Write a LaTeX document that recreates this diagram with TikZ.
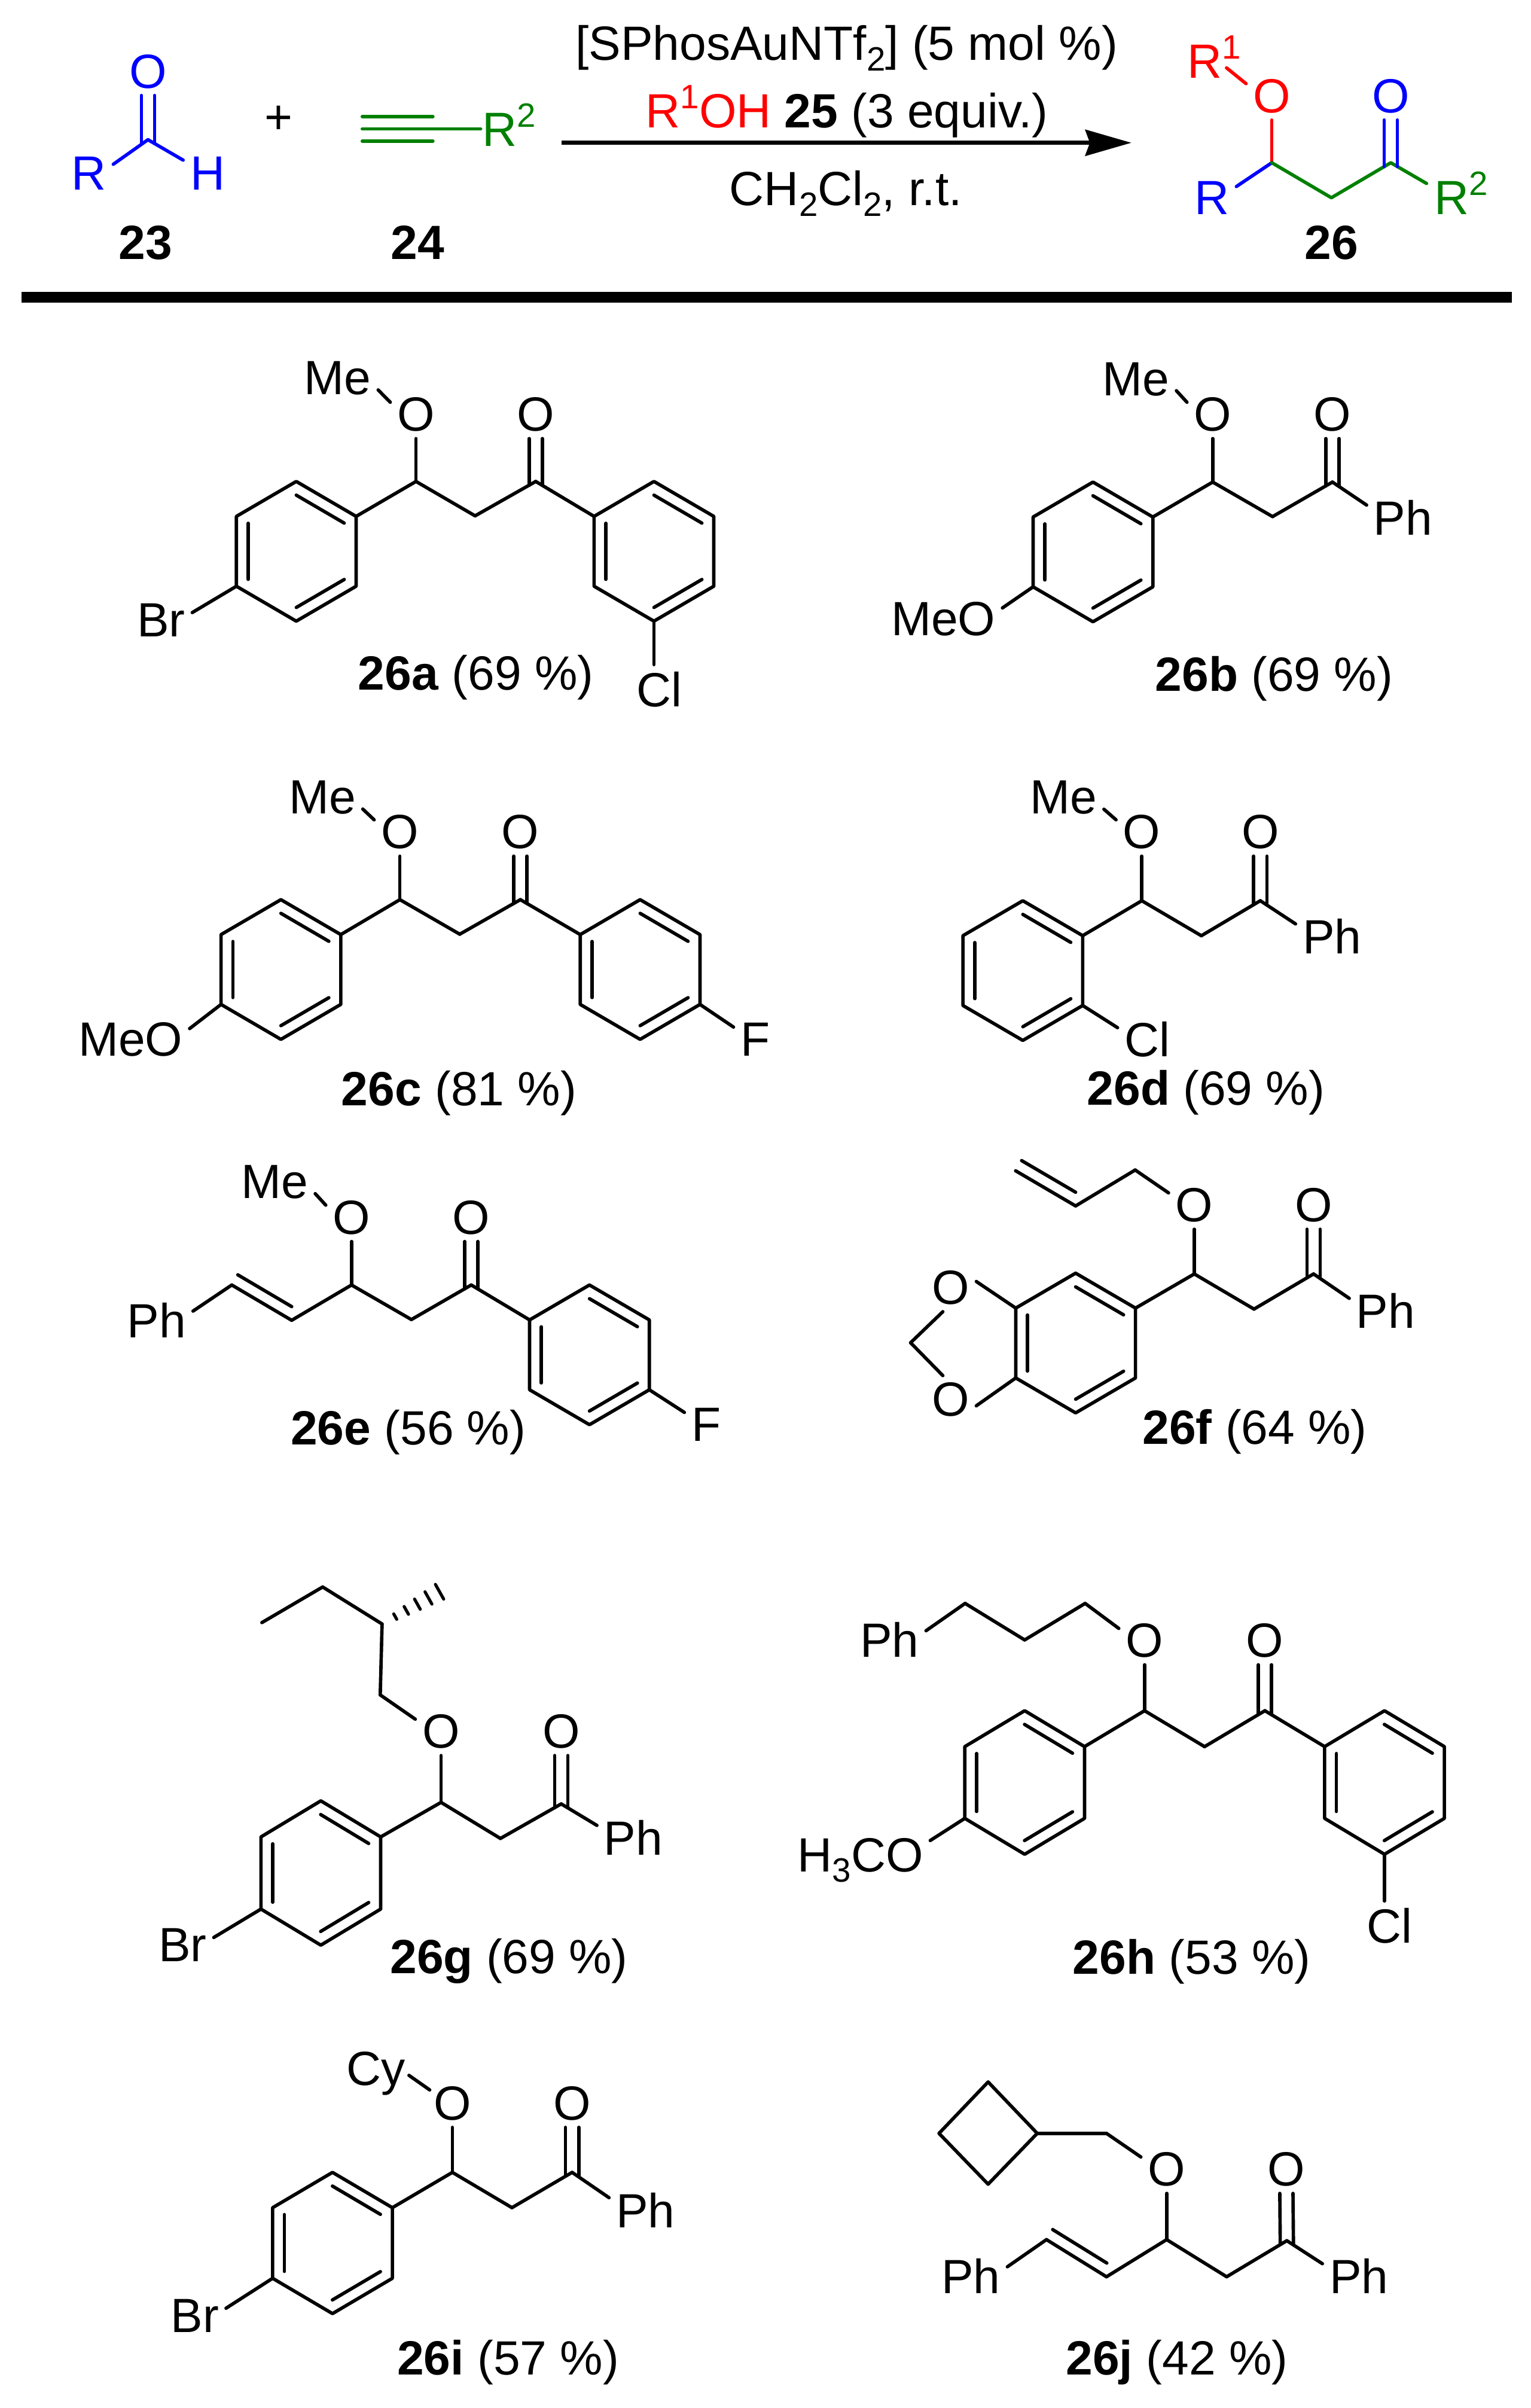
\documentclass[tikz,border=0pt]{standalone}
\usepackage{fontspec}
\setmainfont{Liberation Sans}
\usetikzlibrary{calc}
\usetikzlibrary{arrows.meta}

\definecolor{rblue}{RGB}{0,0,255}
\definecolor{rgreen}{RGB}{0,128,0}
\definecolor{rred}{RGB}{255,0,0}

\newcommand{\supr}[1]{\raisebox{12.5pt}{\fontsize{22}{22}\selectfont #1}}
\newcommand{\subr}[1]{\raisebox{-6.7pt}{\fontsize{22}{22}\selectfont #1}}

\newcommand{\innerb}[3][]{\draw[shorten <=4.5pt, shorten >=4.5pt, #1] ($(#2)!7.7pt!-90:(#3)$) -- ($(#3)!7.7pt!90:(#2)$);}

\newcommand{\dbond}[3][]{
    \draw[#1] ([xshift=-4.3pt]#2.south) -- ([xshift=-4.3pt, yshift=-2.5pt]#3);
    \draw[#1] ([xshift=4.3pt]#2.south) -- ([xshift=4.3pt, yshift=-2.5pt]#3);
}

\newcommand{\phring}[4][91]{
    \coordinate (#21) at (#3, #4);
    \coordinate (#22) at (#3+39, #4+0.25*#1);
    \coordinate (#23) at (#3+39, #4+0.75*#1);
    \coordinate (#24) at (#3, #4+#1);
    \coordinate (#25) at (#3-39, #4+0.75*#1);
    \coordinate (#26) at (#3-39, #4+0.25*#1);
    \draw (#21) -- (#22) -- (#23) -- (#24) -- (#25) -- (#26) -- cycle;
    \innerb{#21}{#22}
    \innerb{#23}{#24}
    \innerb{#25}{#26}
}

\tikzset{
    atom/.style={inner sep=3.5pt},
    sub/.style={inner sep=0pt, anchor=base west},
    yield/.style={inner sep=0pt, anchor=base}
}

\begin{document}
\begin{tikzpicture}[x=1pt, y=-1pt, line width=2.2pt, line join=round, line cap=round, font=\fontsize{31.3}{33}\selectfont]
        \useasboundingbox (0, 0) rectangle (997, 1568.5);

        \node(rO) [atom, text=rblue] at (96.4, 46.5) {O};
        \coordinate (rC) at (96.4, 91);
        \node(rR) [atom, text=rblue] at (57.9, 113) {R};
        \node(rH) [atom, text=rblue] at (135.2, 113) {H};
        \dbond[draw=rblue]{rO}{rC}
        \draw[draw=rblue] (rC) -- ([yshift=6pt]rR.east);
        \draw[draw=rblue] (rC) -- ([yshift=8.7pt]rH.west);
        \node(n23) [atom] at (94.8, 158) {\textbf{23}};
        \node(plus) [atom] at (181.6, 78) {+};

        \coordinate (y1) at (236, 83.9);
        \coordinate (y2) at (282, 83.9);
        \node(yR) [sub, text=rgreen] at (313.1, 95.2) {R\supr{2}};
        \draw[draw=rgreen] (y1) -- (y1 -| yR.west);
        \draw[draw=rgreen] ([yshift=8pt]y1) -- ([yshift=8pt]y2);
        \draw[draw=rgreen] ([yshift=-8pt]y1) -- ([yshift=-8pt]y2);
        \node(n24) [atom] at (272, 158) {\textbf{24}};

        \node(rgt1) [yield] at (551.5, 39.3) {[SPhosAuNTf\subr{2}] (5 mol \%)};
        \node(rgt2) [yield] at (551.7, 83.2) {\textcolor{rred}{R\supr{1}OH} \textbf{25} (3 equiv.)};
        \node(rgt3) [yield] at (551, 134) {CH\subr{2}Cl\subr{2}, r.t.};
        \coordinate (arr1) at (366, 93);
        \coordinate (arr2) at (737, 93);
        \draw[line width=2.6pt, line cap=butt, -{Stealth[length=30pt, width=17pt, inset=3pt]}] (arr1) -- (arr2);

        \node(pR1) [sub, text=rred] at (772.6, 50.7) {R\supr{1}};
        \coordinate (pR1c) at (799, 44.2);
        \node(pO) [atom, text=rred] at (828.5, 62.5) {O};
        \node(pO2) [atom, text=rblue] at (906, 62.5) {O};
        \coordinate (p1) at (828.5, 106);
        \coordinate (p2) at (867.3, 128.8);
        \coordinate (p3) at (906, 106);
        \node(pR) [atom, text=rblue] at (789.5, 129) {R};
        \node(pR2) [sub, text=rgreen] at (933.2, 139.6) {R\supr{2}};
        \coordinate (pR2c) at (929.3, 119.5);
        \draw[draw=rred] (pR1c) -- ([yshift=8pt]pO.west);
        \draw[draw=rred] (pO) -- (p1);
        \draw[draw=rblue] (p1) -- ([yshift=7.5pt]pR.east);
        \draw[draw=rgreen] (p1) -- (p2) -- (p3) -- (pR2c);
        \dbond[draw=rblue]{pO2}{p3}
        \node(n26) [atom] at (867.3, 158) {\textbf{26}};

        \coordinate (bar1) at (14, 193.7);
        \coordinate (bar2) at (985, 193.7);
        \draw[line width=7.1pt, line cap=butt] (bar1) -- (bar2);

        \phring{al}{193}{313.6}
        \phring{ar}{426}{313.6}
        \coordinate (a1) at (271, 313.6);
        \coordinate (a2) at (309.5, 336);
        \coordinate (a3) at (349, 313.6);
        \node(aO) [atom] at (271, 270) {O};
        \node(aO2) [atom] at (349, 270) {O};
        \node(aMe) [atom] at (220, 246.5) {Me};
        \node(aBr) [atom] at (105, 404) {Br};
        \node(aCl) [atom] at (429.4, 449) {Cl};
        \foreach \p/\q in {al2/a1, a1/a2, a2/a3, a3/ar6, a1/aO}
            \draw (\p) -- (\q);
        \dbond{aO2}{a3}
        \draw ([yshift=-7.5pt]aMe.east) -- ([yshift=8pt]aO.west);
        \draw (al5) -- ([yshift=5pt]aBr.east);
        \draw (ar4) -- (ar4 |- aCl.north);
        \node(l26a) [yield] at (310, 449.5) {\textbf{26a} (69 \%)};

        \phring{bl}{712}{314}
        \coordinate (b1) at (790, 314);
        \coordinate (b2) at (829, 336.5);
        \coordinate (b3) at (868, 314);
        \node(bO) [atom] at (790, 270) {O};
        \node(bO2) [atom] at (868, 270) {O};
        \node(bMe) [atom] at (740, 247) {Me};
        \node(bPh) [atom] at (914, 337) {Ph};
        \node(bMeO) [atom] at (614.5, 403) {MeO};
        \foreach \p/\q in {bl2/b1, b1/b2, b2/b3, b1/bO}
            \draw (\p) -- (\q);
        \dbond{bO2}{b3}
        \draw ([yshift=-7.5pt]bMe.east) -- ([yshift=8pt]bO.west);
        \draw (b3) -- ([yshift=8pt]bPh.west);
        \draw (bl5) -- ([yshift=7pt]bMeO.east);
        \node(l26b) [yield] at (830, 450) {\textbf{26b} (69 \%)};

        \phring{cl}{183}{586}
        \phring{cr}{417}{586}
        \coordinate (c1) at (260.5, 586);
        \coordinate (c2) at (299.5, 608.5);
        \coordinate (c3) at (339, 586);
        \node(cO) [atom] at (260.5, 542) {O};
        \node(cO2) [atom] at (339, 542) {O};
        \node(cMe) [atom] at (210, 519.5) {Me};
        \node(cMeO) [atom] at (85, 677) {MeO};
        \node(cF) [atom] at (492, 677) {F};
        \foreach \p/\q in {cl2/c1, c1/c2, c2/c3, c3/cr6, c1/cO}
            \draw (\p) -- (\q);
        \dbond{cO2}{c3}
        \draw ([yshift=-7.5pt]cMe.east) -- ([yshift=8pt]cO.west);
        \draw (cl5) -- ([yshift=7pt]cMeO.east);
        \draw (cr3) -- ([yshift=8pt]cF.west);
        \node(l26c) [yield] at (299, 720) {\textbf{26c} (81 \%)};

        \phring{dl}{666.3}{586.7}
        \coordinate (d1) at (743.8, 586.7);
        \coordinate (d2) at (782.6, 609.5);
        \coordinate (d3) at (821, 586.7);
        \node(dO) [atom] at (743.8, 542) {O};
        \node(dO2) [atom] at (821, 542) {O};
        \node(dMe) [atom] at (692.8, 519.6) {Me};
        \node(dPh) [atom] at (867.7, 609.8) {Ph};
        \node(dCl) [atom] at (747.4, 676.9) {Cl};
        \foreach \p/\q in {dl2/d1, d1/d2, d2/d3, d1/dO}
            \draw (\p) -- (\q);
        \dbond{dO2}{d3}
        \draw ([yshift=-7.5pt]dMe.east) -- ([yshift=8pt]dO.west);
        \draw (d3) -- ([yshift=8pt]dPh.west);
        \draw (dl3) -- ([yshift=7.5pt]dCl.west);
        \node(l26d) [yield] at (785.6, 719.6) {\textbf{26d} (69 \%)};

        \phring{er}{384}{837}
        \coordinate (e1) at (229, 837);
        \coordinate (e2) at (268, 859.5);
        \coordinate (e3) at (307, 837);
        \coordinate (e4) at (190, 860);
        \coordinate (e5) at (151, 837);
        \node(eO) [atom] at (229, 793) {O};
        \node(eO2) [atom] at (307, 793) {O};
        \node(eMe) [atom] at (179, 770) {Me};
        \node(ePh) [atom] at (102, 860) {Ph};
        \node(eF) [atom] at (460, 928) {F};
        \foreach \p/\q in {e4/e1, e1/e2, e2/e3, e3/er6, e1/eO, e4/e5}
            \draw (\p) -- (\q);
        \innerb[shorten >=0pt]{e4}{e5}
        \dbond{eO2}{e3}
        \draw ([yshift=-7.5pt]eMe.east) -- ([yshift=8pt]eO.west);
        \draw (e5) -- ([yshift=6pt]ePh.east);
        \draw (er3) -- ([yshift=8pt]eF.west);
        \node(l26e) [yield] at (266, 941) {\textbf{26e} (56 \%)};

        \phring{fl}{700.7}{829.3}
        \coordinate (f1) at (778, 829.8);
        \coordinate (f2) at (816.9, 852.7);
        \coordinate (f3) at (855.7, 829.8);
        \coordinate (f4) at (739.5, 762.1);
        \coordinate (f5) at (700.7, 785.5);
        \coordinate (f6) at (661.6, 762.6);
        \coordinate (f7) at (593.2, 874.6);
        \node(fO) [atom] at (778, 785) {O};
        \node(fO2) [atom] at (855.7, 785) {O};
        \node(fPh) [atom] at (902.7, 853.7) {Ph};
        \node(fO3) [atom] at (619.2, 838.7) {O};
        \node(fO4) [atom] at (619.2, 911.7) {O};
        \foreach \p/\q in {fl2/f1, f1/f2, f2/f3, f1/fO, f4/f5, f5/f6}
            \draw (\p) -- (\q);
        \dbond{fO2}{f3}
        \innerb[shorten >=0pt]{f5}{f6}
        \draw (f4) -- ([yshift=8pt]fO.west);
        \draw (f3) -- ([yshift=8pt]fPh.west);
        \draw (fl6) -- ([yshift=4pt]fO3.east);
        \draw (fl5) -- ([yshift=-4pt]fO4.east);
        \draw (f7) -- ([xshift=-5pt]fO3.south);
        \draw (f7) -- ([xshift=-5pt]fO4.north);
        \node(l26f) [yield] at (817.4, 940.5) {\textbf{26f} (64 \%)};

        \phring[94]{gl}{209}{1173}
        \coordinate (g1) at (287.3, 1174);
        \coordinate (g2) at (326, 1197.5);
        \coordinate (g3) at (365.6, 1175);
        \coordinate (g4) at (247.7, 1104);
        \coordinate (g5) at (248.9, 1057.8);
        \coordinate (g6) at (210.2, 1033.7);
        \coordinate (g7) at (170.6, 1056.9);
        \coordinate (g8) at (294, 1032.5);
        \node(gO) [atom] at (287.3, 1127.8) {O};
        \node(gO2) [atom] at (365.6, 1127.8) {O};
        \node(gPh) [atom] at (412.6, 1197) {Ph};
        \node(gBr) [atom] at (119, 1267) {Br};
        \foreach \p/\q in {gl2/g1, g1/g2, g2/g3, g1/gO, g4/g5, g5/g6, g6/g7}
            \draw (\p) -- (\q);
        \foreach \f/\w in {.19/2, .35/2.9, .51/3.8, .67/4.6, .83/5.5}
            \draw[line width=2pt] ($(g5)!\f!(g8)!\w pt!90:(g8)$) -- ($(g5)!\f!(g8)!\w pt!-90:(g8)$);
        \dbond{gO2}{g3}
        \draw (g4) -- ([yshift=8pt]gO.west);
        \draw (g3) -- ([yshift=8pt]gPh.west);
        \draw (gl5) -- ([yshift=5pt]gBr.east);
        \node(l26g) [yield] at (331.6, 1285.6) {\textbf{26g} (69 \%)};

        \phring[93.5]{hl}{667.5}{1114.3}
        \phring[93.5]{hr}{901.9}{1114.3}
        \coordinate (h1) at (745.6, 1114.3);
        \coordinate (h2) at (784.7, 1137.7);
        \coordinate (h3) at (824, 1114.3);
        \coordinate (h4) at (706.9, 1044.4);
        \coordinate (h5) at (667.5, 1068.2);
        \coordinate (h6) at (628.7, 1044.4);
        \node(hO) [atom] at (745.6, 1068.7) {O};
        \node(hO2) [atom] at (824, 1068.7) {O};
        \node(hPh) [atom] at (579.5, 1068.2) {Ph};
        \node(hMeO) [atom, anchor=base] at (560.5, 1219.3) {H\subr{3}CO};
        \node(hCl) [atom] at (905.1, 1254.3) {Cl};
        \foreach \p/\q in {hl2/h1, h1/h2, h2/h3, h3/hr6, h1/hO, h4/h5, h5/h6}
            \draw (\p) -- (\q);
        \dbond{hO2}{h3}
        \draw (h4) -- ([yshift=8pt]hO.west);
        \draw (h6) -- ([yshift=6pt]hPh.east);
        \draw (hl5) -- ([yshift=-6pt]hMeO.north east);
        \draw (hr4) -- (hr4 |- hCl.north);
        \node(l26h) [yield] at (776.3, 1286) {\textbf{26h} (53 \%)};

        \phring[92]{il}{216.6}{1415}
        \coordinate (i1) at (294.7, 1415);
        \coordinate (i2) at (333.5, 1438);
        \coordinate (i3) at (372.7, 1415);
        \node(iO) [atom] at (294.7, 1370) {O};
        \node(iO2) [atom] at (372.7, 1370) {O};
        \node(iCy) [atom, anchor=base] at (244.7, 1358.2) {Cy};
        \node(iPh) [atom] at (420.5, 1439.5) {Ph};
        \node(iBr) [atom] at (127, 1508.5) {Br};
        \foreach \p/\q in {il2/i1, i1/i2, i2/i3, i1/iO}
            \draw (\p) -- (\q);
        \dbond{iO2}{i3}
        \draw ([xshift=-2pt, yshift=-1.3pt]iCy.east) -- ([xshift=2pt, yshift=8.7pt]iO.west);
        \draw (i3) -- ([yshift=8pt]iPh.west);
        \draw (il5) -- ([yshift=5pt]iBr.east);
        \node(l26i) [yield] at (331, 1547) {\textbf{26i} (57 \%)};

        \coordinate (j1) at (760, 1458.8);
        \coordinate (j2) at (799.1, 1483);
        \coordinate (j3) at (838.3, 1459.5);
        \coordinate (j4) at (720.8, 1483);
        \coordinate (j5) at (681.7, 1458.8);
        \coordinate (j6) at (720.8, 1389.6);
        \coordinate (j7) at (675.7, 1389.6);
        \coordinate (j8) at (643.7, 1356.1);
        \coordinate (j9) at (611.7, 1389.6);
        \coordinate (j10) at (643.7, 1422.7);
        \node(jO) [atom] at (760, 1413) {O};
        \node(jO2) [atom] at (838, 1413) {O};
        \node(jPh) [atom] at (632.5, 1482.5) {Ph};
        \node(jPh2) [atom] at (885.2, 1482.5) {Ph};
        \foreach \p/\q in {j4/j1, j1/j2, j2/j3, j1/jO, j4/j5, j6/j7}
            \draw (\p) -- (\q);
        \draw (j7) -- (j8) -- (j9) -- (j10) -- cycle;
        \innerb[shorten >=0pt]{j4}{j5}
        \dbond{jO2}{j3}
        \draw (j6) -- ([yshift=8pt]jO.west);
        \draw (j5) -- ([yshift=6pt]jPh.east);
        \draw (j3) -- ([yshift=8pt]jPh2.west);
        \node(l26j) [yield] at (766.7, 1547) {\textbf{26j} (42 \%)};
    \end{tikzpicture}
\end{document}
